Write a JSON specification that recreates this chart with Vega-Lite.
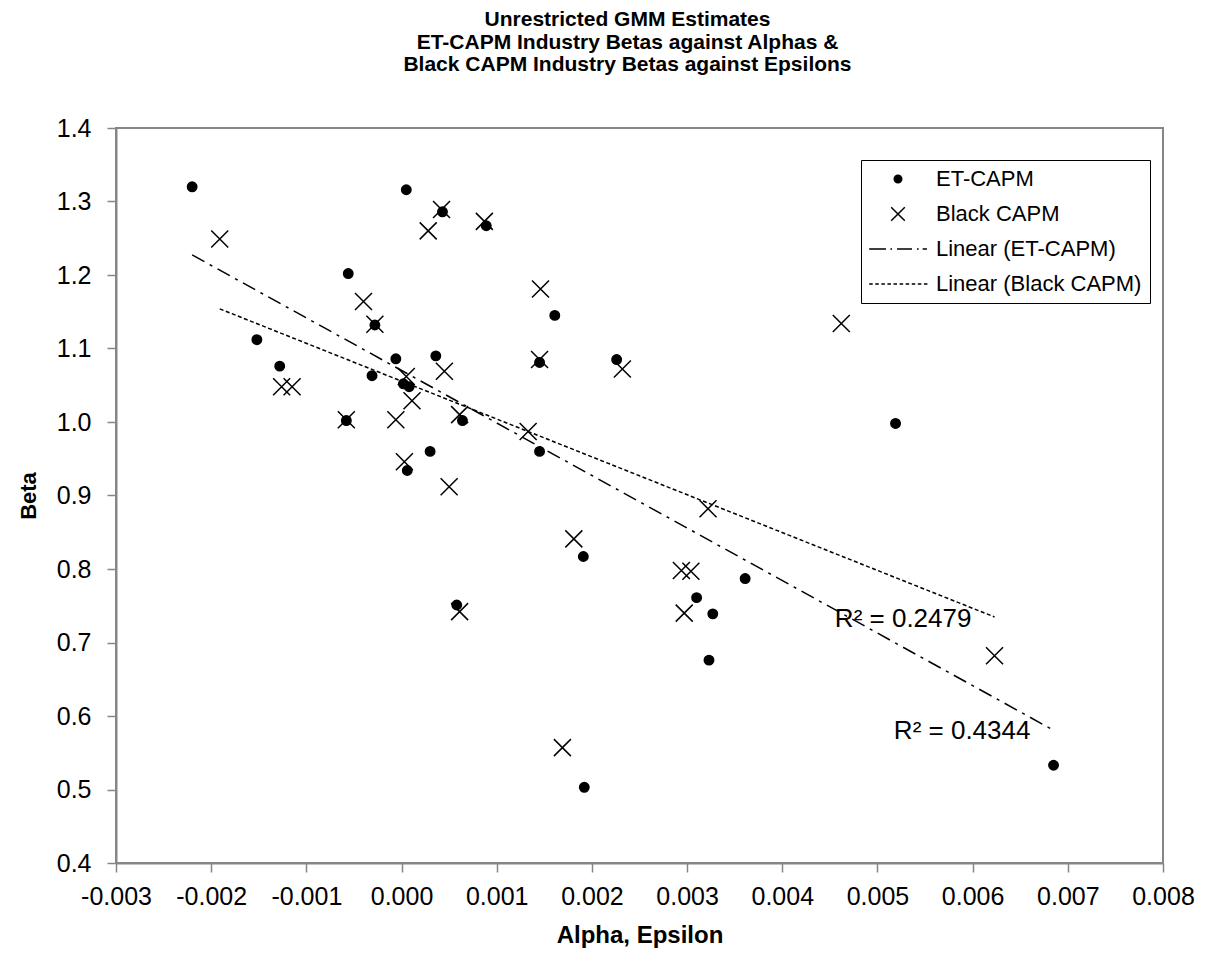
{
  "$schema": "https://vega.github.io/schema/vega-lite/v6.json",
  "width": 1047,
  "height": 735,
  "autosize": "none",
  "padding": {"left": 116, "top": 128, "right": 45, "bottom": 109},
  "background": "white",
  "config": {"font": "Liberation Sans", "view": {"stroke": "#868686", "strokeWidth": 2}},
  "title": {
    "text": ["Unrestricted GMM Estimates", "ET-CAPM Industry Betas against Alphas &", "Black CAPM Industry Betas against Epsilons"],
    "fontSize": 21, "fontWeight": "bold", "font": "Liberation Sans", "color": "black",
    "anchor": "middle", "lineHeight": 22.5, "offset": 41, "dx": -12
  },
  "datasets": {
    "pts": [
      {"series": "ET-CAPM", "alpha": -0.0022, "beta": 1.320},
      {"series": "ET-CAPM", "alpha": 0.00005, "beta": 1.316},
      {"series": "ET-CAPM", "alpha": 0.00043, "beta": 1.286},
      {"series": "ET-CAPM", "alpha": 0.00089, "beta": 1.267},
      {"series": "ET-CAPM", "alpha": -0.00056, "beta": 1.202},
      {"series": "ET-CAPM", "alpha": -0.00028, "beta": 1.132},
      {"series": "ET-CAPM", "alpha": -0.00152, "beta": 1.112},
      {"series": "ET-CAPM", "alpha": -0.00128, "beta": 1.076},
      {"series": "ET-CAPM", "alpha": -0.00006, "beta": 1.086},
      {"series": "ET-CAPM", "alpha": 0.00036, "beta": 1.090},
      {"series": "ET-CAPM", "alpha": -0.00031, "beta": 1.063},
      {"series": "ET-CAPM", "alpha": 0.00161, "beta": 1.145},
      {"series": "ET-CAPM", "alpha": 0.00145, "beta": 1.081},
      {"series": "ET-CAPM", "alpha": 0.00226, "beta": 1.085},
      {"series": "ET-CAPM", "alpha": 0.00002, "beta": 1.052},
      {"series": "ET-CAPM", "alpha": 0.00008, "beta": 1.048},
      {"series": "ET-CAPM", "alpha": -0.00058, "beta": 1.002},
      {"series": "ET-CAPM", "alpha": 0.00064, "beta": 1.002},
      {"series": "ET-CAPM", "alpha": 0.00030, "beta": 0.960},
      {"series": "ET-CAPM", "alpha": 0.00006, "beta": 0.934},
      {"series": "ET-CAPM", "alpha": 0.00058, "beta": 0.751},
      {"series": "ET-CAPM", "alpha": 0.00145, "beta": 0.960},
      {"series": "ET-CAPM", "alpha": 0.00191, "beta": 0.817},
      {"series": "ET-CAPM", "alpha": 0.00361, "beta": 0.787},
      {"series": "ET-CAPM", "alpha": 0.00310, "beta": 0.761},
      {"series": "ET-CAPM", "alpha": 0.00327, "beta": 0.739},
      {"series": "ET-CAPM", "alpha": 0.00323, "beta": 0.676},
      {"series": "ET-CAPM", "alpha": 0.00519, "beta": 0.998},
      {"series": "ET-CAPM", "alpha": 0.00685, "beta": 0.533},
      {"series": "ET-CAPM", "alpha": 0.00192, "beta": 0.503},
      {"series": "Black CAPM", "alpha": -0.00191, "beta": 1.249},
      {"series": "Black CAPM", "alpha": 0.00028, "beta": 1.260},
      {"series": "Black CAPM", "alpha": 0.00042, "beta": 1.289},
      {"series": "Black CAPM", "alpha": 0.00087, "beta": 1.273},
      {"series": "Black CAPM", "alpha": -0.00040, "beta": 1.164},
      {"series": "Black CAPM", "alpha": -0.00028, "beta": 1.133},
      {"series": "Black CAPM", "alpha": 0.00146, "beta": 1.181},
      {"series": "Black CAPM", "alpha": 0.00145, "beta": 1.085},
      {"series": "Black CAPM", "alpha": 0.00232, "beta": 1.072},
      {"series": "Black CAPM", "alpha": 0.00462, "beta": 1.134},
      {"series": "Black CAPM", "alpha": -0.00126, "beta": 1.048},
      {"series": "Black CAPM", "alpha": -0.00115, "beta": 1.048},
      {"series": "Black CAPM", "alpha": 0.00005, "beta": 1.062},
      {"series": "Black CAPM", "alpha": 0.00011, "beta": 1.029},
      {"series": "Black CAPM", "alpha": 0.00045, "beta": 1.069},
      {"series": "Black CAPM", "alpha": -0.00058, "beta": 1.003},
      {"series": "Black CAPM", "alpha": -0.00006, "beta": 1.003},
      {"series": "Black CAPM", "alpha": 0.00061, "beta": 1.010},
      {"series": "Black CAPM", "alpha": 0.00003, "beta": 0.946},
      {"series": "Black CAPM", "alpha": 0.00050, "beta": 0.912},
      {"series": "Black CAPM", "alpha": 0.00061, "beta": 0.742},
      {"series": "Black CAPM", "alpha": 0.00133, "beta": 0.987},
      {"series": "Black CAPM", "alpha": 0.00181, "beta": 0.841},
      {"series": "Black CAPM", "alpha": 0.00322, "beta": 0.882},
      {"series": "Black CAPM", "alpha": 0.00294, "beta": 0.798},
      {"series": "Black CAPM", "alpha": 0.00304, "beta": 0.797},
      {"series": "Black CAPM", "alpha": 0.00297, "beta": 0.740},
      {"series": "Black CAPM", "alpha": 0.00623, "beta": 0.682},
      {"series": "Black CAPM", "alpha": 0.00169, "beta": 0.557}
    ],
    "r2": [
      {"alpha": 0.00527, "beta": 0.7324, "label": "R² = 0.2479"},
      {"alpha": 0.00589, "beta": 0.579, "label": "R² = 0.4344"}
    ]
  },
  "layer": [
    {
      "data": {"name": "pts"},
      "transform": [{"filter": "datum.series === 'ET-CAPM'"}, {"regression": "beta", "on": "alpha"}],
      "mark": {"type": "line", "color": "black", "strokeWidth": 1.5, "strokeDash": [14, 6, 3, 6]},
      "encoding": {
        "x": {"field": "alpha", "type": "quantitative"},
        "y": {"field": "beta", "type": "quantitative"}
      }
    },
    {
      "data": {"name": "pts"},
      "transform": [{"filter": "datum.series === 'Black CAPM'"}, {"regression": "beta", "on": "alpha"}],
      "mark": {"type": "line", "color": "black", "strokeWidth": 1.5, "strokeDash": [4, 2.5]},
      "encoding": {
        "x": {"field": "alpha", "type": "quantitative"},
        "y": {"field": "beta", "type": "quantitative"}
      }
    },
    {
      "data": {"name": "pts"},
      "mark": {"type": "point", "filled": true, "color": "black", "fill": "black", "stroke": "black", "strokeWidth": 1.5, "size": 400, "opacity": 1},
      "encoding": {
        "x": {
          "field": "alpha", "type": "quantitative",
          "scale": {"domain": [-0.003, 0.008], "nice": false, "zero": false},
          "axis": {
            "title": "Alpha, Epsilon", "titleFontSize": 24, "titleFontWeight": "bold", "titleColor": "black", "titlePadding": 14,
            "values": [-0.003, -0.002, -0.001, 0, 0.001, 0.002, 0.003, 0.004, 0.005, 0.006, 0.007, 0.008],
            "labelExpr": "replace(format(datum.value, '.3f'), '\u2212', '-')",
            "labelFontSize": 25, "labelColor": "black", "labelPadding": 12, "labelFlush": false,
            "domainColor": "#868686", "domainWidth": 2, "tickColor": "#868686", "tickWidth": 1.5, "tickSize": 9,
            "grid": false
          }
        },
        "y": {
          "field": "beta", "type": "quantitative",
          "scale": {"domain": [0.4, 1.4], "nice": false, "zero": false},
          "axis": {
            "title": "Beta", "titleFontSize": 22, "titleFontWeight": "bold", "titleColor": "black", "titlePadding": 16,
            "values": [0.4, 0.5, 0.6, 0.7, 0.8, 0.9, 1.0, 1.1, 1.2, 1.3, 1.4],
            "format": ".1f",
            "labelFontSize": 25, "labelColor": "black", "labelPadding": 16, "labelFlush": false,
            "domainColor": "#868686", "domainWidth": 2, "tickColor": "#868686", "tickWidth": 1.5, "tickSize": 9,
            "grid": false
          }
        },
        "shape": {
          "field": "series", "type": "nominal",
          "scale": {
            "domain": ["ET-CAPM", "Black CAPM", "Linear (ET-CAPM)", "Linear (Black CAPM)"],
            "range": [
              "M-0.47,0A0.47,0.47,0,1,0,0.47,0A0.47,0.47,0,1,0,-0.47,0Z",
              "M-0.85,-0.85L0.85,0.85M-0.85,0.85L0.85,-0.85",
              "M-3.6,0L-1.5,0M-0.95,0L-0.75,0M-0.12,0L1.75,0M2.37,0L2.58,0M3.08,0L3.62,0",
              "M-3.6,0L-3.16,0M-2.84,0L-2.4,0M-2.08,0L-1.64,0M-1.32,0L-0.88,0M-0.56,0L-0.12,0M0.2,0L0.64,0M0.96,0L1.4,0M1.72,0L2.16,0M2.48,0L2.92,0M3.24,0L3.68,0"
            ]
          },
          "legend": {
            "title": null, "orient": "none", "legendX": 745, "legendY": 32,
            "strokeColor": "black", "fillColor": "white", "padding": 8,
            "labelFontSize": 22, "labelColor": "black", "labelFont": "Liberation Sans", "labelLimit": 400,
            "rowPadding": 13, "symbolSize": 256, "symbolOffset": 18, "labelOffset": 27,
            "symbolStrokeColor": "black", "symbolFillColor": "black", "symbolStrokeWidth": 1.5,
            "symbolOpacity": 1,
            "encoding": {
              "symbols": {
                "stroke": {"value": "black"},
                "fill": {"value": "black"},
                "strokeWidth": {"value": 1.5},
                "opacity": {"value": 1}
              }
            }
          }
        }
      }
    },
    {
      "data": {"name": "r2"},
      "mark": {"type": "text", "fontSize": 26, "font": "Liberation Sans", "color": "black", "align": "center", "baseline": "middle"},
      "encoding": {
        "x": {"field": "alpha", "type": "quantitative"},
        "y": {"field": "beta", "type": "quantitative"},
        "text": {"field": "label"}
      }
    }
  ]
}
